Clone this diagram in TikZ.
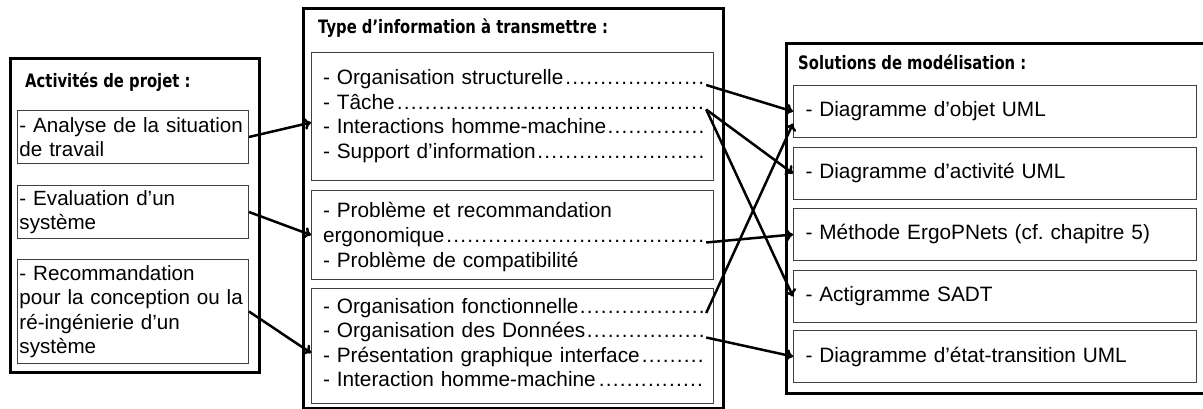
\documentclass[tikz,border=0pt]{standalone}
\usepackage{fontspec}
\setmainfont{Liberation Sans}
\newfontfamily\titrefont{DejaVu Sans}[FakeStretch=0.8]
\usetikzlibrary{arrows.meta}
\frenchspacing
\hyphenpenalty=10000
\exhyphenpenalty=10000

\newcommand\pointilles{\leavevmode\cleaders\hbox to 7pt{\hss.\hss}\hfill\kern0pt}

\tikzstyle{fleche} = [line width=2.5pt,-{To[length=7pt,width=12pt]}]
\tikzstyle{cadre} = [draw, line width=3pt, anchor=north west, inner sep=0pt]
\tikzstyle{boite} = [draw=black!75, line width=1pt, anchor=north west, inner sep=0pt, minimum width=402pt]
\tikzstyle{titre} = [anchor=west, inner sep=0pt, font=\titrefont\bfseries\fontsize{18.5}{22}\selectfont]
\tikzstyle{ligne} = [inner sep=0pt, text width=383pt, text height=15pt, text depth=5pt, font=\fontsize{20.8}{24.5}\selectfont]
\tikzstyle{activite} = [draw=black!75, line width=1pt, anchor=north west, inner xsep=2pt, inner ysep=0pt, text width=227pt, align=left, font=\fontsize{20.6}{24.5}\selectfont]
\tikzstyle{solution} = [draw=black!75, line width=1pt, anchor=north west, inner xsep=12pt, inner ysep=0pt, text width=379pt, minimum height=52pt, font=\fontsize{20.8}{24.5}\selectfont]

\begin{document}
\begin{tikzpicture}[x=1pt, y=-1pt, node distance=24.5pt]
\useasboundingbox (0,0) rectangle (1203,409);

% cadres
\node (colA) [cadre, minimum width=249pt, minimum height=314pt] at (9,57) {};
\node (colB) [cadre, minimum width=420pt, minimum height=400pt] at (302,7) {};
\node (colC) [cadre, minimum width=430pt, minimum height=350pt] at (785,42) {};

\node (tA) [titre] at (25,82) {Activités de projet :};
\node (tB) [titre] at (318,28) {Type d’information à transmettre :};
\node (tC) [titre] at (798,62) {Solutions de modélisation :};

% activites de projet
\node (l1) [activite, minimum height=53pt] at (17,110) {- Analyse de la situation\\de travail};
\node (l2) [activite, minimum height=53pt] at (17,185) {- Evaluation d’un\\système};
\node (l3) [activite, minimum height=104pt] at (17,259) {- Recommandation\\pour la conception ou la\\ré-ingénierie d’un\\système};

% type d'information
\node (m1) [boite, minimum height=128pt] at (311,52) {};
\node (m2) [boite, minimum height=89pt] at (311,190) {};
\node (m3) [boite, minimum height=115pt] at (311,288) {};

\node (ms1) [ligne] at (514.5,80) {- Organisation structurelle\pointilles};
\node (ms2) [ligne, below of=ms1] {- Tâche\pointilles};
\node (ms3) [ligne, below of=ms2] {- Interactions homme-machine\pointilles};
\node (ms4) [ligne, below of=ms3] {- Support d’information\pointilles};

\node (me1) [ligne] at (514.5,213) {- Problème et recommandation};
\node (me2) [ligne, below of=me1] {ergonomique\pointilles};
\node (me3) [ligne, below of=me2] {- Problème de compatibilité};

\node (mf1) [ligne] at (514.5,308) {- Organisation fonctionnelle\pointilles};
\node (mf2) [ligne, below of=mf1] {- Organisation des Données\pointilles};
\node (mf3) [ligne, below of=mf2] {- Présentation graphique interface\pointilles};
\node (mf4) [ligne, below of=mf3] {- Interaction homme-machine\pointilles};

% solutions
\node (r1) [solution] at (793,85) {- Diagramme d’objet UML};
\node (r2) [solution] at (793,147) {- Diagramme d’activité UML};
\node (r3) [solution] at (793,208) {- Méthode ErgoPNets (cf. chapitre 5)};
\node (r4) [solution] at (793,270) {- Actigramme SADT};
\node (r5) [solution] at (793,330) {- Diagramme d’état-transition UML};

\draw [fleche] (l1.east) -- ([yshift=-6pt]m1.west);
\draw [fleche] (l2.east) -- (m2.west);
\draw [fleche] (l3.east) -- ([yshift=-7pt]m3.west);

\draw [fleche] (ms1.base east) -- (r1.west);
\draw [fleche] (ms2.base east) -- (r2.west);
\draw [fleche] (ms2.base east) -- (r4.west);
\draw [fleche] (me2.base east) -- (r3.west);
\draw [fleche] (mf1.base east) -- ([yshift=-12pt]r1.west);
\draw [fleche] (mf2.base east) -- (r5.west);

\end{tikzpicture}
\end{document}
